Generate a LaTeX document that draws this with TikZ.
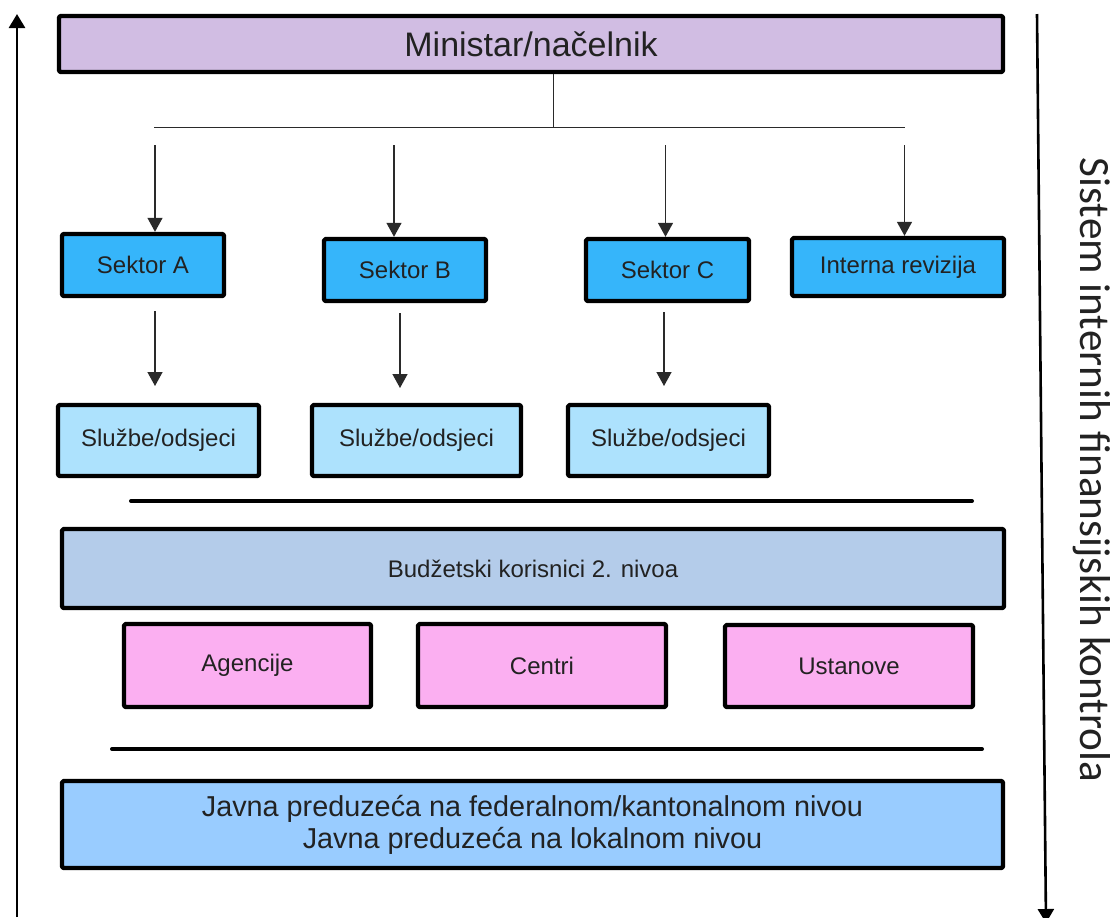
\documentclass[tikz,border=0pt]{standalone}
\usepackage{fontspec}
\setmainfont{Liberation Sans}
\newfontfamily\sidefont{Carlito}
\usetikzlibrary{arrows.meta}

\definecolor{minfill}{HTML}{D1BDE3}
\definecolor{sekfill}{HTML}{36B5FA}
\definecolor{slufill}{HTML}{ADE2FD}
\definecolor{budfill}{HTML}{B4CCEA}
\definecolor{pinkfill}{HTML}{FBAFF1}
\definecolor{botfill}{HTML}{99CCFF}
\definecolor{txt}{HTML}{222222}
\definecolor{wire}{HTML}{2A2A2A}

\begin{document}
\begin{tikzpicture}[x=0.5pt,y=-0.5pt,
  box/.style={draw=black, line width=2.2pt, line join=round, rounded corners=0.8pt,
    inner sep=0pt, text=txt, align=center, font=\fontsize{12}{14}\selectfont},
  conn/.style={line width=0.7pt, draw=wire, -{Triangle[length=7pt,width=7.5pt]}},
  tree/.style={line width=0.7pt, draw=wire},
  rule/.style={line width=2pt, draw=black, line cap=round},
  sidearrow/.style={line width=1.3pt, draw=black, -{Triangle[length=7pt,width=8pt]}}]
\useasboundingbox (0,0) rectangle (1114,917);

% top level
\node[box, fill=minfill, minimum width=472pt, minimum height=28pt,
      font=\fontsize{17}{20}\selectfont] (min) at (531,44) {Ministar/načelnik};

% sectors
\node[box, fill=sekfill, minimum width=81pt, minimum height=31pt] (sA) at (143,265) {Sektor A};
\node[box, fill=sekfill, minimum width=81pt, minimum height=31pt] (sB) at (405,270) {Sektor B};
\node[box, fill=sekfill, minimum width=81.5pt, minimum height=31pt] (sC) at (667.5,270) {Sektor C};
\node[box, fill=sekfill, minimum width=106pt, minimum height=29pt] (ir) at (898,267) {Interna revizija};

% departments
\node[box, fill=slufill, minimum width=100.5pt, minimum height=35.5pt] (o1) at (158.5,440.5) {Službe/odsjeci};
\node[box, fill=slufill, minimum width=104.5pt, minimum height=35.5pt] (o2) at (416.5,440.5) {Službe/odsjeci};
\node[box, fill=slufill, minimum width=100.5pt, minimum height=35.5pt] (o3) at (668.5,440.5) {Službe/odsjeci};

% second level budget users
\node[box, fill=budfill, minimum width=471pt, minimum height=39.5pt] (bud) at (533,568.5) {Budžetski korisnici 2. nivoa};
\node[box, fill=pinkfill, minimum width=123.5pt, minimum height=41.5pt] (ag) at (247.5,665.5) {Agencije};
\node[box, fill=pinkfill, minimum width=124pt, minimum height=41.5pt] (ce) at (542,665.5) {Centri};
\node[box, fill=pinkfill, minimum width=124pt, minimum height=41pt] (us) at (849,666) {Ustanove};

% public enterprises
\node[box, fill=botfill, minimum width=470.5pt, minimum height=43.5pt,
      font=\fontsize{14.4}{16}\selectfont] (jp) at (532.5,824.5)
      {Javna preduzeća na federalnom/kantonalnom nivou\\Javna preduzeća na lokalnom nivou};

% branching from the minister
\coordinate (hub) at (553.5,127.5);
\coordinate (hl) at (154,127.5);
\coordinate (hr) at (904.5,127.5);
\draw[tree] (min.south -| hub) -- (hub);
\draw[tree] (hl) -- (hr);

\coordinate (a1) at (155,145);
\coordinate (a2) at (394,145);
\coordinate (a3) at (665.5,145);
\coordinate (a4) at (904.5,145);
\draw[conn] (a1) -- (a1 |- sA.north);
\draw[conn] (a2) -- (a2 |- sB.north);
\draw[conn] (a3) -- (a3 |- sC.north);
\draw[conn] (a4) -- (a4 |- ir.north);

% sectors to departments
\coordinate (b1s) at (155,311);
\coordinate (b1e) at (155,386);
\coordinate (b2s) at (400,313);
\coordinate (b2e) at (400,388);
\coordinate (b3s) at (664,312);
\coordinate (b3e) at (664,386);
\draw[conn] (b1s) -- (b1e);
\draw[conn] (b2s) -- (b2e);
\draw[conn] (b3s) -- (b3e);

% separators
\coordinate (r1l) at (131,501);
\coordinate (r1r) at (972,501);
\coordinate (r2l) at (112,749);
\coordinate (r2r) at (982,749);
\draw[rule] (r1l) -- (r1r);
\draw[rule] (r2l) -- (r2r);

% side arrows and caption
\coordinate (lb) at (17,917);
\coordinate (lt) at (17,14);
\draw[sidearrow] (lb) -- (lt);
\coordinate (rt) at (1037,14);
\coordinate (rb) at (1046,923);
\draw[sidearrow] (rt) -- (rb);

\node[font=\sidefont\fontsize{21.6}{24}\selectfont, text=txt, rotate=-90, inner sep=0pt] (side)
  at (1092,470) {Sistem internih finansijskih kontrola};
\end{tikzpicture}
\end{document}
